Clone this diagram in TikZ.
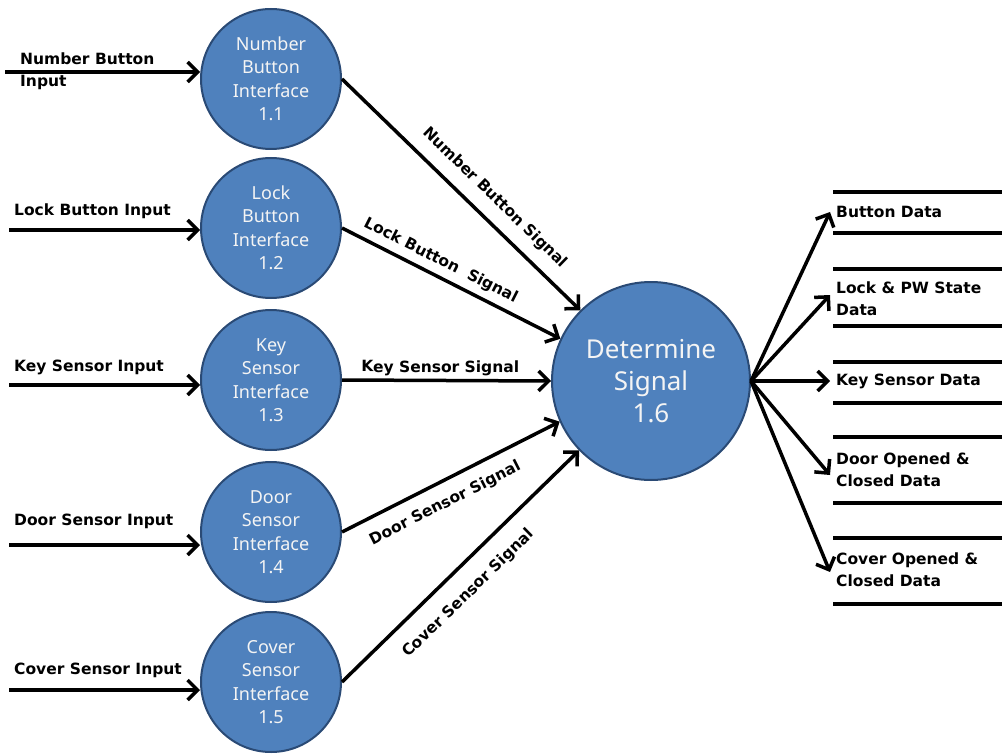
\documentclass[tikz,border=0pt]{standalone}
\usepackage{fontspec}
\setmainfont{Noto Sans}
\newfontfamily\boldfam{DejaVu Sans}
\usetikzlibrary{arrows.meta}
\definecolor{cfill}{HTML}{4F81BD}
\definecolor{cline}{HTML}{2A4A75}
\definecolor{ctext}{HTML}{F4F4F4}
\tikzset{
  proc/.style={circle, draw=cline, line width=2pt, fill=cfill, text=ctext, align=center,
    minimum size=140pt, inner sep=0pt, font=\fontsize{18}{23.5}\selectfont},
  bigproc/.style={proc, minimum size=198pt, font=\fontsize{26}{32}\selectfont},
  flow/.style={line width=3.5pt, -{Straight Barb[length=10pt,width=20pt]}},
  lbl/.style={font=\boldfam\bfseries\fontsize{15.5}{22}\selectfont, inner sep=0pt, align=left},
  sig/.style={font=\boldfam\bfseries\fontsize{15.5}{18}\selectfont, inner sep=0pt, sloped},
  store/.style={font=\boldfam\bfseries\fontsize{15.5}{22}\selectfont, inner xsep=6pt, inner ysep=0pt, align=left},
  storeline/.style={line width=3.5pt},
}
\begin{document}
\begin{tikzpicture}[x=1pt,y=-1pt]
\useasboundingbox (0,0) rectangle (1004,754);
% processes
\node[proc] (c1) at (271,79) {Number\\Button\\Interface\\1.1};
\node[proc] (c2) at (271,228) {Lock\\Button\\Interface\\1.2};
\node[proc] (c3) at (271,380) {Key\\Sensor\\Interface\\1.3};
\node[proc] (c4) at (271,532) {Door\\Sensor\\Interface\\1.4};
\node[proc] (c5) at (271,682) {Cover\\Sensor\\Interface\\1.5};
\node[bigproc] (c6) at (651,381) {Determine\\Signal\\1.6};
% inputs
\coordinate (i1) at (5,72);
\coordinate (i2) at (9,230);
\coordinate (i3) at (9,385);
\coordinate (i4) at (9,545);
\coordinate (i5) at (9,690);
\draw[flow] (i1) -- (i1 -| c1.west);
\draw[flow] (i2) -- (i2 -| c2.west);
\draw[flow] (i3) -- (i3 -| c3.west);
\draw[flow] (i4) -- (i4 -| c4.west);
\draw[flow] (i5) -- (i5 -| c5.west);
\node[lbl, anchor=west] (l1) at (20,71) {Number Button\\Input};
\node[lbl, anchor=west] (l2) at (14,211) {Lock Button Input};
\node[lbl, anchor=west] (l3) at (14,367) {Key Sensor Input};
\node[lbl, anchor=west] (l4) at (14,521) {Door Sensor Input};
\node[lbl, anchor=west] (l5) at (14,670) {Cover Sensor Input};
% signals
\draw[flow] (c1.east) -- node[sig, above=12pt, pos=0.58] {Number Button Signal} (c6.135);
\draw[flow] (c2.east) -- node[sig, above=6pt, pos=0.42] {Lock Button\ \ Signal} (c6.155);
\draw[flow] (c3.east) -- node[sig, above=3pt, pos=0.47] {Key Sensor Signal} (c6.180);
\draw[flow] (c4.east) -- node[sig, below=12pt, pos=0.43] {Door Sensor Signal} (c6.204);
\draw[flow] (c5.east) -- node[sig, below=16pt, pos=0.46] {Cover Sensor Signal} (c6.224);
% data stores
\node[store, anchor=west] (s1) at (830,212) {Button Data};
\node[store, anchor=west] (s2) at (830,299) {Lock \& PW State\\Data};
\node[store, anchor=west] (s3) at (830,381) {Key Sensor Data};
\node[store, anchor=west] (s4) at (830,470) {Door Opened \&\\Closed Data};
\node[store, anchor=west] (s5) at (830,570) {Cover Opened \&\\Closed Data};
\draw[storeline] (833,192) -- (1002,192);
\draw[storeline] (833,233) -- (1002,233);
\draw[storeline] (833,269) -- (1002,269);
\draw[storeline] (833,326) -- (1002,326);
\draw[storeline] (833,362) -- (1002,362);
\draw[storeline] (833,403) -- (1002,403);
\draw[storeline] (833,437) -- (1002,437);
\draw[storeline] (833,503) -- (1002,503);
\draw[storeline] (833,538) -- (1002,538);
\draw[storeline] (833,604) -- (1002,604);
\draw[flow] (c6.east) -- (s1.west);
\draw[flow] (c6.east) -- ([yshift=4pt]s2.west);
\draw[flow] (c6.east) -- (s3.west);
\draw[flow] (c6.east) -- ([yshift=-5pt]s4.west);
\draw[flow] (c6.east) -- ([yshift=-2pt]s5.west);
\end{tikzpicture}
\end{document}
